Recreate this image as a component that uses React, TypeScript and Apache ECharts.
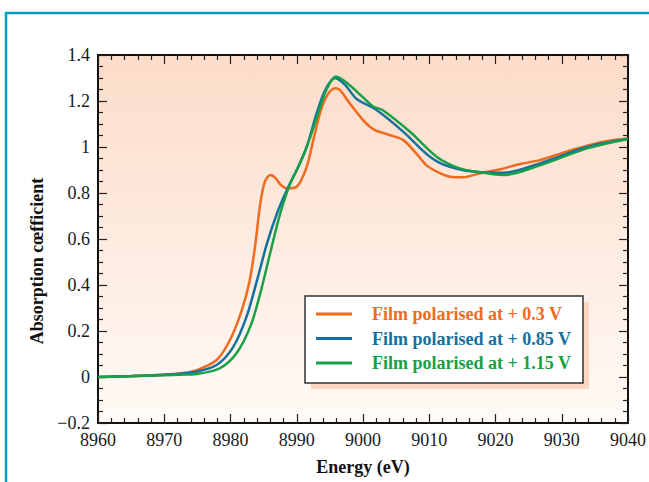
import React, { useEffect, useRef } from "react";
import * as echarts from "echarts";

const seriesNames = [
  "Film polarised at + 0.3 V",
  "Film polarised at + 0.85 V",
  "Film polarised at + 1.15 V",
];

const energyLow = [
  8960, 8965, 8970, 8972.4, 8974.9, 8977.9, 8979.9, 8981.7, 8982.9, 8983.7, 8984.5, 8985.2, 8986.0,
  8986.8, 8987.6, 8988.5, 8990, 8991.5, 8992.5, 8993.5, 8994.5, 8995.8, 8996.5, 8998, 9000, 9001.6,
  9004, 9006.1, 9008.1, 9009.6, 9011.6, 9013.1, 9015.1, 9017.7, 9020.7, 9023.7, 9026.7, 9030.7,
  9034.8, 9037.8, 9040,
];
const valuesLow = [
  0, 0.004, 0.01, 0.016, 0.03, 0.074, 0.16, 0.29, 0.42, 0.567, 0.755, 0.85, 0.878, 0.865, 0.835,
  0.82, 0.827, 0.914, 1.03, 1.146, 1.22, 1.255, 1.248, 1.19, 1.117, 1.077, 1.052, 1.03, 0.97, 0.92,
  0.886, 0.871, 0.868, 0.886, 0.903, 0.926, 0.943, 0.98, 1.013, 1.03, 1.036,
];

const energyMid = [
  8960, 8965, 8970, 8972.4, 8974.9, 8977.9, 8980.4, 8982.4, 8984, 8985.5, 8987, 8988.5, 8990,
  8991.5, 8993, 8994.3, 8995.8, 8997.3, 8999, 9002.1, 9006.1, 9010.1, 9013.1, 9017.7, 9021.2,
  9026.7, 9033.8, 9040,
];
const valuesMid = [
  0, 0.004, 0.01, 0.014, 0.023, 0.052, 0.13, 0.26, 0.42, 0.58, 0.71, 0.813, 0.9, 1.0, 1.146, 1.248,
  1.3, 1.27, 1.21, 1.16, 1.066, 0.958, 0.914, 0.89, 0.888, 0.929, 1.0, 1.036,
];

const energyHigh = [
  8960, 8965, 8970, 8972.4, 8974.9, 8978.4, 8980.9, 8983, 8984.5, 8986, 8987.5, 8989, 8990.5, 8992,
  8993.5, 8994.5, 8995.9, 8997.5, 9000, 9001.6, 9003, 9007.1, 9011.1, 9014.6, 9017.7, 9021.2,
  9026.7, 9033.8, 9040,
];
const valuesHigh = [
  0, 0.003, 0.008, 0.01, 0.013, 0.038, 0.103, 0.22, 0.364, 0.54, 0.71, 0.84, 0.93, 1.04, 1.17,
  1.25, 1.306, 1.28, 1.216, 1.175, 1.16, 1.066, 0.958, 0.907, 0.89, 0.878, 0.92, 0.994, 1.035,
];

const colors = ["#ee6b1f", "#13709f", "#18a047"];
const FONT = "'Liberation Serif', 'Times New Roman', serif";

const pairs = (xs: number[], ys: number[]) => xs.map((x, i) => [x, ys[i]]);

export default function App() {
  const ref = useRef<HTMLDivElement>(null);
  useEffect(() => {
    const chart = echarts.init(ref.current!, null, { renderer: "svg" });
    const axisLine = { show: true, onZero: false, lineStyle: { color: "#111", width: 2 } };
    const tick = { show: true, inside: true, length: 9, lineStyle: { color: "#222", width: 1.2 } };
    const minorY = { show: true, splitNumber: 4, length: 5, lineStyle: { color: "#222", width: 1.2 } };
    const minorX = { show: true, splitNumber: 5, length: 5, lineStyle: { color: "#222", width: 1.2 } };
    const yFmt = (v: number) => {
      const r = Math.round(v * 10) / 10;
      return r < 0 ? "\u2212" + Math.abs(r) : String(r);
    };
    const xFmt = (v: number) => String(Math.round(v));
    const data = [
      pairs(energyLow, valuesLow),
      pairs(energyMid, valuesMid),
      pairs(energyHigh, valuesHigh),
    ];
    chart.setOption({
      animation: false,
      textStyle: { fontFamily: FONT },
      grid: {
        left: 98,
        right: 21,
        top: 55,
        bottom: 59,
        show: true,
        borderWidth: 0,
        backgroundColor: new echarts.graphic.LinearGradient(0, 0, 0, 1, [
          { offset: 0, color: "#fcdcc9" },
          { offset: 1, color: "#fffaf6" },
        ]),
      },
      graphic: [
        {
          type: "rect",
          shape: { x: 6, y: 13, width: 700, height: 600 },
          style: { fill: "none", stroke: "#0a9cc6", lineWidth: 2.5 },
          z: 0,
        },
        {
          type: "rect",
          shape: { x: 311, y: 302, width: 278, height: 87 },
          style: { fill: "#fbd6c1" },
          z: 5,
        },
        {
          type: "rect",
          shape: { x: 305, y: 296, width: 278, height: 87 },
          style: { fill: "#ffffff", stroke: "#333", lineWidth: 1.5 },
          z: 6,
        },
      ],
      legend: {
        orient: "vertical",
        left: 316,
        top: 305,
        padding: 0,
        itemGap: 6.5,
        icon: "rect",
        itemWidth: 36,
        itemHeight: 3,
        z: 10,
        textStyle: { fontFamily: FONT, fontSize: 18, fontWeight: "bold", padding: [0, 0, 0, 15] },
        data: seriesNames.map((n, i) => ({ name: n, textStyle: { color: colors[i] } })),
      },
      xAxis: [
        {
          type: "value",
          min: 8960,
          max: 9040,
          interval: 10,
          position: "bottom",
          name: "Energy (eV)",
          nameLocation: "middle",
          nameGap: 35,
          nameTextStyle: { fontFamily: FONT, fontSize: 18, fontWeight: "bold", color: "#111" },
          axisLine,
          axisTick: tick,
          minorTick: minorX,
          splitLine: { show: false },
          axisLabel: { fontFamily: FONT, fontSize: 18, color: "#1a1a1a", margin: 8, formatter: xFmt },
        },
        {
          type: "value",
          min: 8960,
          max: 9040,
          interval: 10,
          position: "top",
          axisLine,
          axisTick: tick,
          minorTick: minorX,
          splitLine: { show: false },
          axisLabel: { show: false },
        },
      ],
      yAxis: [
        {
          type: "value",
          min: -0.2,
          max: 1.4,
          interval: 0.2,
          position: "left",
          name: "Absorption cœfficient",
          nameLocation: "middle",
          nameGap: 49,
          nameTextStyle: {
            fontFamily: FONT,
            fontSize: 18,
            fontWeight: "bold",
            color: "#111",
            padding: [0, 44, 0, 0],
          },
          axisLine,
          axisTick: tick,
          minorTick: minorY,
          splitLine: { show: false },
          axisLabel: { fontFamily: FONT, fontSize: 18, color: "#1a1a1a", margin: 8, formatter: yFmt },
        },
        {
          type: "value",
          min: -0.2,
          max: 1.4,
          interval: 0.2,
          position: "right",
          axisLine,
          axisTick: tick,
          minorTick: minorY,
          splitLine: { show: false },
          axisLabel: { show: false },
        },
      ],
      series: seriesNames.map((n, i) => ({
        name: n,
        type: "line",
        data: data[i],
        showSymbol: false,
        symbol: "none",
        smooth: 0.3,
        color: colors[i],
        lineStyle: { color: colors[i], width: 2.5 },
        z: 3 + i,
      })),
    });
    return () => chart.dispose();
  }, []);
  return (
    <div
      ref={ref}
      style={{ position: "fixed", left: 0, top: 0, width: 649, height: 482, background: "#fff" }}
    />
  );
}
